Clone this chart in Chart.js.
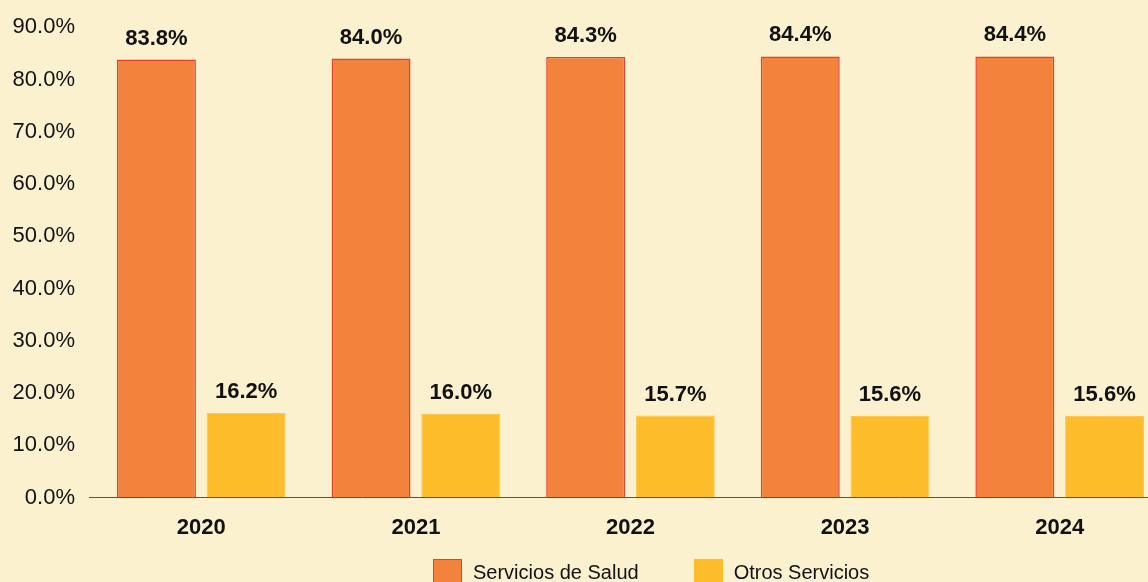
<!DOCTYPE html>
<html>
<head>
<meta charset="utf-8">
<script src="https://cdn.jsdelivr.net/npm/chart.js@4"></script>
<style>
  html, body { margin: 0; padding: 0; background: #fbf1ce; overflow: hidden; }
  #wrap { position: relative; width: 1168px; height: 582px; }
  #chartBox { position: absolute; left: 0; top: 0; width: 1168px; height: 563px; }
  #legend {
    position: absolute; left: 433px; top: 559px;
    display: flex; align-items: center;
    font-family: "Liberation Sans", Arial, sans-serif; font-size: 20px; color: #111;
  }
  .item { display: flex; align-items: center; margin-right: 55px; }
  .box { width: 29px; height: 26px; box-sizing: border-box; margin-right: 11px; }
</style>
</head>
<body>
<div id="wrap">
  <div id="chartBox"><canvas id="shareChart"></canvas></div>
  <div id="legend"></div>
</div>
<script>
// share of revenue by service type, per year
const years = ["2020", "2021", "2022", "2023", "2024"];
const saludValues = [83.8, 84.0, 84.3, 84.4, 84.4];
const otrosValues = [16.2, 16.0, 15.7, 15.6, 15.6];
const seriesNames = ["Servicios de Salud", "Otros Servicios"];
const yTicks = [0, 10, 20, 30, 40, 50, 60, 70, 80, 90];

const fontFamily = '"Liberation Sans", Arial, sans-serif';
const fills = ["#f2823c", "#fdbd2b"];
const borders = ["#e8402a", "#fcc657"];

// draw the percentage above each bar
const barLabels = {
  id: "barLabels",
  afterDatasetsDraw(chart) {
    const ctx = chart.ctx;
    ctx.save();
    ctx.font = "bold 22px " + fontFamily;
    ctx.fillStyle = "#111";
    ctx.textAlign = "center";
    ctx.textBaseline = "alphabetic";
    chart.data.datasets.forEach((ds, i) => {
      chart.getDatasetMeta(i).data.forEach((bar, j) => {
        ctx.fillText(ds.data[j].toFixed(1) + "%", bar.x, bar.y - 15);
      });
    });
    ctx.restore();
  },
};

document.addEventListener("DOMContentLoaded", function () {
  const ctx = document.getElementById("shareChart").getContext("2d");

  new Chart(ctx, {
    type: "bar",
    data: {
      labels: years,
      datasets: [
        {
          label: seriesNames[0],
          data: saludValues,
          backgroundColor: fills[0],
          borderColor: borders[0],
          borderWidth: 1.5,
          categoryPercentage: 0.836,
          barPercentage: 0.88,
        },
        {
          label: seriesNames[1],
          data: otrosValues,
          backgroundColor: fills[1],
          borderColor: borders[1],
          borderWidth: 1,
          categoryPercentage: 0.836,
          barPercentage: 0.88,
        },
      ],
    },
    options: {
      responsive: true,
      maintainAspectRatio: false,
      animation: false,
      layout: { padding: { top: 19, left: 0, right: 1, bottom: 5 } },
      plugins: {
        legend: { display: false },
        tooltip: { enabled: false },
      },
      scales: {
        x: {
          grid: { display: false, drawTicks: false },
          border: { display: true, color: "#555", width: 1 },
          ticks: {
            padding: 17,
            color: "#111",
            font: { family: fontFamily, size: 22, weight: "bold" },
          },
        },
        y: {
          min: 0,
          max: 90,
          afterBuildTicks: function (axis) {
            axis.ticks = yTicks.map((v) => ({ value: v }));
          },
          afterFit: function (axis) {
            axis.width = 94;
          },
          grid: {
            drawOnChartArea: false,
            drawTicks: true,
            tickLength: 5,
            color: function (c) {
              return c.tick && c.tick.value === 0 ? "#555" : "transparent";
            },
          },
          border: { display: false },
          ticks: {
            padding: 14,
            color: "#111",
            font: { family: fontFamily, size: 22 },
            callback: function (value) {
              return value.toFixed(1) + "%";
            },
          },
        },
      },
    },
    plugins: [barLabels],
  });

  // html legend
  const legend = document.getElementById("legend");
  seriesNames.forEach((name, i) => {
    const item = document.createElement("div");
    item.className = "item";
    const box = document.createElement("span");
    box.className = "box";
    box.style.background = fills[i];
    box.style.border = "1px solid " + (i === 0 ? borders[0] : fills[i]);
    item.appendChild(box);
    item.appendChild(document.createTextNode(name));
    legend.appendChild(item);
  });
});
</script>
</body>
</html>
